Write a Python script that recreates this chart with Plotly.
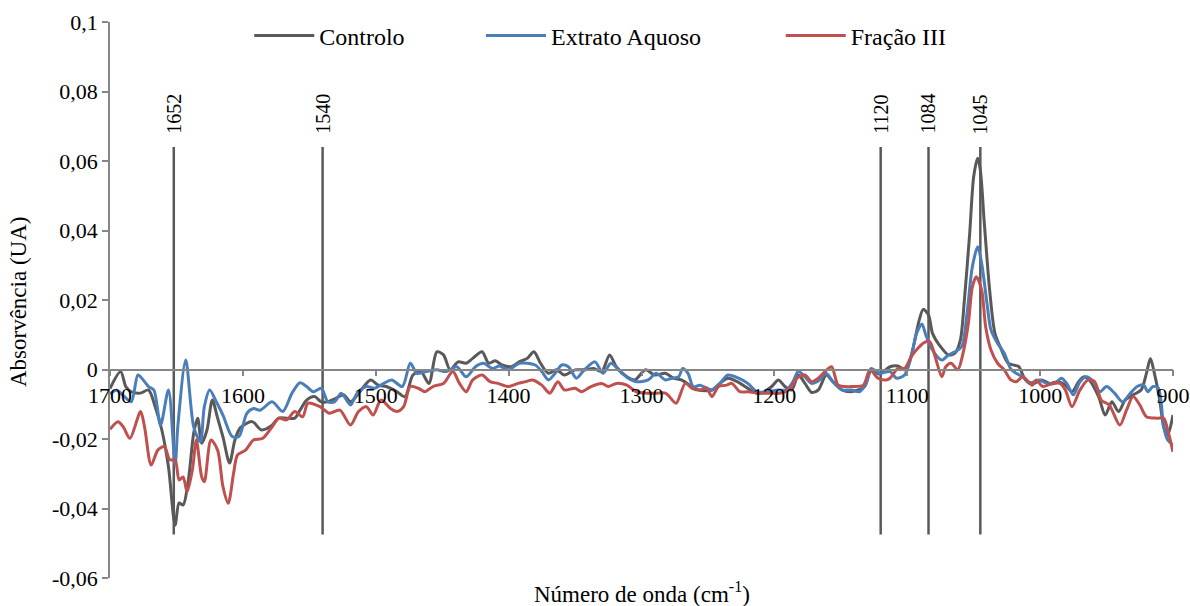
import plotly.graph_objects as go

# Wavenumber (cm-1) and absorbance difference for each sample
controlo_wn = [1700, 1692, 1688, 1684, 1677, 1671, 1666, 1661, 1656, 1651, 1648, 1645, 1641, 1637, 1634,
               1631, 1627, 1623, 1619, 1615, 1610, 1606, 1602, 1593, 1586, 1578, 1573, 1561, 1557, 1552,
               1546, 1541, 1536, 1530, 1524, 1519, 1512, 1504, 1498, 1492, 1484, 1478, 1472, 1466, 1460,
               1454, 1449, 1444, 1438, 1432, 1427, 1420, 1415, 1410, 1405, 1398, 1392, 1386, 1381, 1376,
               1370, 1364, 1358, 1350, 1343, 1336, 1330, 1324, 1319, 1311, 1305, 1297, 1290, 1282, 1276,
               1270, 1263, 1257, 1247, 1241, 1235, 1228, 1222, 1216, 1210, 1202, 1197, 1192, 1187, 1182,
               1177, 1172, 1167, 1161, 1156, 1149, 1143, 1137, 1132, 1127, 1121, 1113, 1107, 1101, 1096,
               1091, 1088, 1084, 1081, 1076, 1069, 1064, 1060, 1057, 1053, 1050, 1047, 1045, 1042, 1038,
               1034, 1029, 1024, 1019, 1016, 1011, 1005, 999, 993, 986, 981, 976, 971, 967, 963,
               956, 951, 946, 941, 936, 930, 924, 920, 917, 914, 910, 907, 904, 900]
controlo_abs = [-0.0055, -0.0006, -0.0050, -0.0064, -0.0068, -0.0059, -0.0107, -0.0174, -0.0280, -0.0448,
                -0.0384, -0.0390, -0.0318, -0.0183, -0.0140, -0.0212, -0.0174, -0.0088, -0.0140, -0.0194,
                -0.0269, -0.0203, -0.0168, -0.0150, -0.0174, -0.0160, -0.0140, -0.0140, -0.0117, -0.0088,
                -0.0078, -0.0093, -0.0093, -0.0083, -0.0073, -0.0093, -0.0064, -0.0030, -0.0045, -0.0049,
                -0.0064, -0.0078, -0.0016, -0.0006, -0.0040, 0.0051, 0.0042, -0.0001, 0.0022, 0.0018,
                0.0032, 0.0051, 0.0018, 0.0025, 0.0013, 0.0008, 0.0022, 0.0032, 0.0051, 0.0018,
                -0.0011, -0.0001, -0.0016, -0.0001, -0.0001, 0.0003, -0.0006, 0.0042, 0.0008, -0.0021,
                -0.0030, -0.0001, -0.0016, -0.0011, -0.0025, -0.0030, -0.0047, -0.0059, -0.0059, -0.0040,
                -0.0025, -0.0035, -0.0049, -0.0064, -0.0068, -0.0049, -0.0030, -0.0049, -0.0059, -0.0016,
                -0.0040, -0.0066, -0.0059, -0.0016, -0.0035, -0.0059, -0.0064, -0.0059, -0.0049, -0.0001,
                -0.0013, 0.0008, 0.0010, -0.0001, 0.0056, 0.0142, 0.0173, 0.0157, 0.0104, 0.0071,
                0.0042, 0.0047, 0.0085, 0.0200, 0.0392, 0.0555, 0.0608, 0.0574, 0.0421, 0.0229,
                0.0104, 0.0056, 0.0018, 0.0012, 0.0008, -0.0030, -0.0040, -0.0030, -0.0040, -0.0035,
                -0.0045, -0.0064, -0.0035, -0.0021, -0.0030, -0.0078, -0.0131, -0.0093, -0.0121, -0.0088,
                -0.0073, -0.0059, -0.0011, 0.0032, -0.0011, -0.0088, -0.0165, -0.0188, -0.0131]

extrato_wn = [1700, 1695, 1690, 1684, 1679, 1675, 1671, 1667, 1662, 1656, 1651, 1649, 1643, 1637, 1632,
              1629, 1625, 1620, 1615, 1608, 1603, 1597, 1592, 1587, 1578, 1570, 1563, 1557, 1552, 1547,
              1541, 1536, 1531, 1526, 1519, 1514, 1507, 1501, 1494, 1488, 1480, 1474, 1469, 1462, 1454,
              1447, 1439, 1432, 1425, 1419, 1412, 1407, 1400, 1392, 1380, 1375, 1370, 1365, 1360, 1355,
              1349, 1343, 1335, 1329, 1323, 1316, 1310, 1304, 1295, 1289, 1282, 1277, 1272, 1269, 1265,
              1261, 1256, 1247, 1241, 1235, 1227, 1220, 1213, 1206, 1197, 1191, 1186, 1182, 1177, 1172,
              1166, 1161, 1156, 1149, 1142, 1136, 1131, 1127, 1121, 1113, 1108, 1102, 1097, 1093, 1089,
              1086, 1081, 1074, 1069, 1064, 1059, 1055, 1051, 1047, 1044, 1040, 1037, 1032, 1027, 1022,
              1018, 1013, 1008, 1001, 995, 989, 984, 980, 975, 970, 965, 960, 955, 950, 944,
              938, 932, 927, 922, 919, 915, 911, 907, 904, 900]
extrato_abs = [-0.0070, -0.0060, -0.0075, -0.0093, -0.0016, -0.0030, -0.0049, -0.0059, -0.0160, -0.0059,
               -0.0275, -0.0165, 0.0027, -0.0165, -0.0208, -0.0107, -0.0059, -0.0093, -0.0131, -0.0193,
               -0.0193, -0.0126, -0.0112, -0.0117, -0.0093, -0.0121, -0.0068, -0.0038, -0.0049, -0.0064,
               -0.0054, -0.0093, -0.0093, -0.0068, -0.0102, -0.0068, -0.0049, -0.0054, -0.0040, -0.0030,
               -0.0049, 0.0018, -0.0011, -0.0006, -0.0001, -0.0006, 0.0008, -0.0021, 0.0008, 0.0018,
               0.0003, 0.0010, -0.0001, 0.0018, 0.0013, -0.0006, -0.0030, -0.0011, 0.0013, 0.0008,
               -0.0025, -0.0001, 0.0022, -0.0011, 0.0018, -0.0006, -0.0025, -0.0035, -0.0030, -0.0011,
               -0.0030, -0.0025, -0.0021, 0.0003, -0.0011, -0.0050, -0.0045, -0.0059, -0.0040, -0.0016,
               -0.0025, -0.0040, -0.0064, -0.0064, -0.0059, -0.0059, -0.0035, -0.0006, -0.0021, -0.0040,
               -0.0030, -0.0011, -0.0035, -0.0059, -0.0059, -0.0064, -0.0040, 0.0003, -0.0011, -0.0006,
               -0.0025, -0.0016, 0.0037, 0.0104, 0.0131, 0.0099, 0.0056, 0.0027, 0.0042, 0.0051,
               0.0066, 0.0162, 0.0296, 0.0353, 0.0306, 0.0191, 0.0114, 0.0075, 0.0047, 0.0001,
               -0.0011, -0.0021, -0.0040, -0.0030, -0.0040, -0.0040, -0.0025, -0.0040, -0.0073, -0.0035,
               -0.0021, -0.0035, -0.0064, -0.0049, -0.0068, -0.0093, -0.0068, -0.0049, -0.0045, -0.0064,
               -0.0049, -0.0054, -0.0165, -0.0203, -0.0217]

fracao_wn = [1700, 1694, 1690, 1685, 1677, 1674, 1669, 1664, 1659, 1655, 1651, 1648, 1645, 1642, 1638,
             1635, 1631, 1629, 1624, 1619, 1615, 1611, 1607, 1604, 1598, 1592, 1585, 1578, 1573, 1567,
             1561, 1555, 1551, 1542, 1535, 1527, 1519, 1513, 1507, 1502, 1496, 1489, 1484, 1479, 1474,
             1468, 1463, 1457, 1449, 1442, 1437, 1432, 1427, 1420, 1414, 1408, 1400, 1393, 1387, 1382,
             1375, 1369, 1363, 1358, 1350, 1345, 1338, 1330, 1325, 1319, 1311, 1304, 1296, 1289, 1282,
             1279, 1274, 1267, 1262, 1256, 1251, 1247, 1242, 1236, 1232, 1226, 1220, 1213, 1203, 1195,
             1188, 1183, 1177, 1172, 1167, 1162, 1157, 1152, 1147, 1141, 1133, 1128, 1122, 1116, 1113,
             1107, 1102, 1097, 1092, 1087, 1083, 1079, 1074, 1071, 1067, 1062, 1058, 1054, 1051, 1048,
             1044, 1041, 1037, 1032, 1027, 1022, 1018, 1013, 1006, 1003, 998, 991, 985, 981, 976,
             970, 964, 959, 954, 948, 940, 935, 930, 925, 920, 912, 907, 904, 900]
fracao_abs = [-0.0172, -0.0150, -0.0165, -0.0198, -0.0121, -0.0165, -0.0275, -0.0232, -0.0222, -0.0260,
              -0.0260, -0.0318, -0.0309, -0.0352, -0.0289, -0.0203, -0.0309, -0.0323, -0.0203, -0.0232,
              -0.0337, -0.0385, -0.0299, -0.0246, -0.0232, -0.0203, -0.0198, -0.0165, -0.0140, -0.0145,
              -0.0121, -0.0136, -0.0097, -0.0107, -0.0126, -0.0117, -0.0160, -0.0121, -0.0107, -0.0131,
              -0.0088, -0.0112, -0.0121, -0.0107, -0.0049, -0.0054, -0.0064, -0.0049, -0.0040, -0.0006,
              -0.0040, -0.0064, -0.0030, -0.0016, -0.0035, -0.0040, -0.0049, -0.0040, -0.0035, -0.0030,
              -0.0045, -0.0068, -0.0035, -0.0059, -0.0054, -0.0064, -0.0049, -0.0040, -0.0049, -0.0040,
              -0.0045, -0.0064, -0.0068, -0.0068, -0.0068, -0.0078, -0.0097, -0.0040, -0.0054, -0.0059,
              -0.0054, -0.0078, -0.0049, -0.0045, -0.0040, -0.0064, -0.0064, -0.0068, -0.0068, -0.0068,
              -0.0054, -0.0025, -0.0016, -0.0035, -0.0025, -0.0006, 0.0008, -0.0045, -0.0049, -0.0049,
              -0.0045, -0.0001, -0.0025, -0.0030, -0.0025, 0.0003, 0.0003, 0.0037, 0.0061, 0.0078,
              0.0080, 0.0037, -0.0021, 0.0008, 0.0018, -0.0001, 0.0047, 0.0133, 0.0238, 0.0267,
              0.0229, 0.0123, 0.0056, 0.0018, -0.0001, -0.0030, -0.0035, -0.0021, -0.0045, -0.0030,
              -0.0049, -0.0040, -0.0040, -0.0059, -0.0107, -0.0059, -0.0030, -0.0035, -0.0088, -0.0102,
              -0.0160, -0.0117, -0.0078, -0.0102, -0.0136, -0.0140, -0.0140, -0.0174, -0.0237]

# Marked band positions (cm-1)
bands = [1652, 1540, 1120, 1084, 1045]

x_ticks = [1700, 1600, 1500, 1400, 1300, 1200, 1100, 1000, 900]
y_ticks = [-0.06, -0.04, -0.02, 0, 0.02, 0.04, 0.06, 0.08, 0.1]
y_tick_text = ["-0,06", "-0,04", "-0,02", "0", "0,02", "0,04", "0,06", "0,08", "0,1"]

FONT = "'Liberation Serif', 'Times New Roman', serif"
AXIS_GREY = "#868686"

series = [
    ("Controlo", controlo_wn, controlo_abs, "#595959", "legend"),
    ("Extrato Aquoso", extrato_wn, extrato_abs, "#4a7ebb", "legend2"),
    ("Fração III", fracao_wn, fracao_abs, "#c0504d", "legend3"),
]

fig = go.Figure()
for name, wn, ab, color, leg in series:
    fig.add_trace(go.Scatter(
        x=wn, y=ab, name=name, mode="lines", legend=leg, showlegend=True,
        line=dict(color=color, width=3, shape="spline", smoothing=0.8),
    ))

# Vertical band markers with rotated labels
for b in bands:
    fig.add_shape(type="line", x0=b, x1=b, y0=-0.0475, y1=0.064, xref="x", yref="y",
                  line=dict(color="#595959", width=2.5), layer="below")
    fig.add_annotation(x=b, y=0.0735, xref="x", yref="y", text=str(b), textangle=-90,
                       showarrow=False, font=dict(family=FONT, size=20, color="black"),
                       xanchor="center", yanchor="middle")

fig.add_annotation(x=0.5, y=-0.026, xref="paper", yref="paper",
                   text="Número de onda (cm<sup>-1</sup>)", showarrow=False,
                   font=dict(family=FONT, size=23, color="black"),
                   xanchor="center", yanchor="middle")
fig.add_annotation(x=-0.0866, y=0.498, xref="paper", yref="paper",
                   text="Absorvência (UA)", textangle=-90, showarrow=False,
                   font=dict(family=FONT, size=23, color="black"),
                   xanchor="center", yanchor="middle")

legend_common = dict(orientation="h", yanchor="middle", y=0.975, xanchor="left",
                     bgcolor="rgba(0,0,0,0)", font=dict(family=FONT, size=24, color="black"),
                     itemwidth=60)

fig.update_layout(
    width=1190, height=606,
    margin=dict(l=110, r=17, t=22, b=28, autoexpand=False),
    paper_bgcolor="white", plot_bgcolor="white",
    showlegend=True,
    font=dict(family=FONT, size=22, color="black"),
    legend=dict(legend_common, x=0.131),
    legend2=dict(legend_common, x=0.349),
    legend3=dict(legend_common, x=0.631),
    xaxis=dict(
        range=[1700, 900], anchor="free", position=0.375, automargin=False,
        tickvals=x_ticks, ticktext=[str(v) for v in x_ticks],
        showline=True, linecolor=AXIS_GREY, linewidth=1.5,
        ticks="outside", ticklen=6, tickcolor=AXIS_GREY, tickwidth=1.5,
        showgrid=False, zeroline=False,
        tickfont=dict(family=FONT, size=22, color="black"),
    ),
    yaxis=dict(
        range=[-0.06, 0.1], automargin=False,
        tickvals=y_ticks, ticktext=y_tick_text,
        showline=True, linecolor=AXIS_GREY, linewidth=1.5,
        ticks="outside", ticklen=6, tickcolor=AXIS_GREY, tickwidth=1.5,
        showgrid=False, zeroline=False,
        tickfont=dict(family=FONT, size=22, color="black"),
    ),
)

fig.write_html("out.html")
